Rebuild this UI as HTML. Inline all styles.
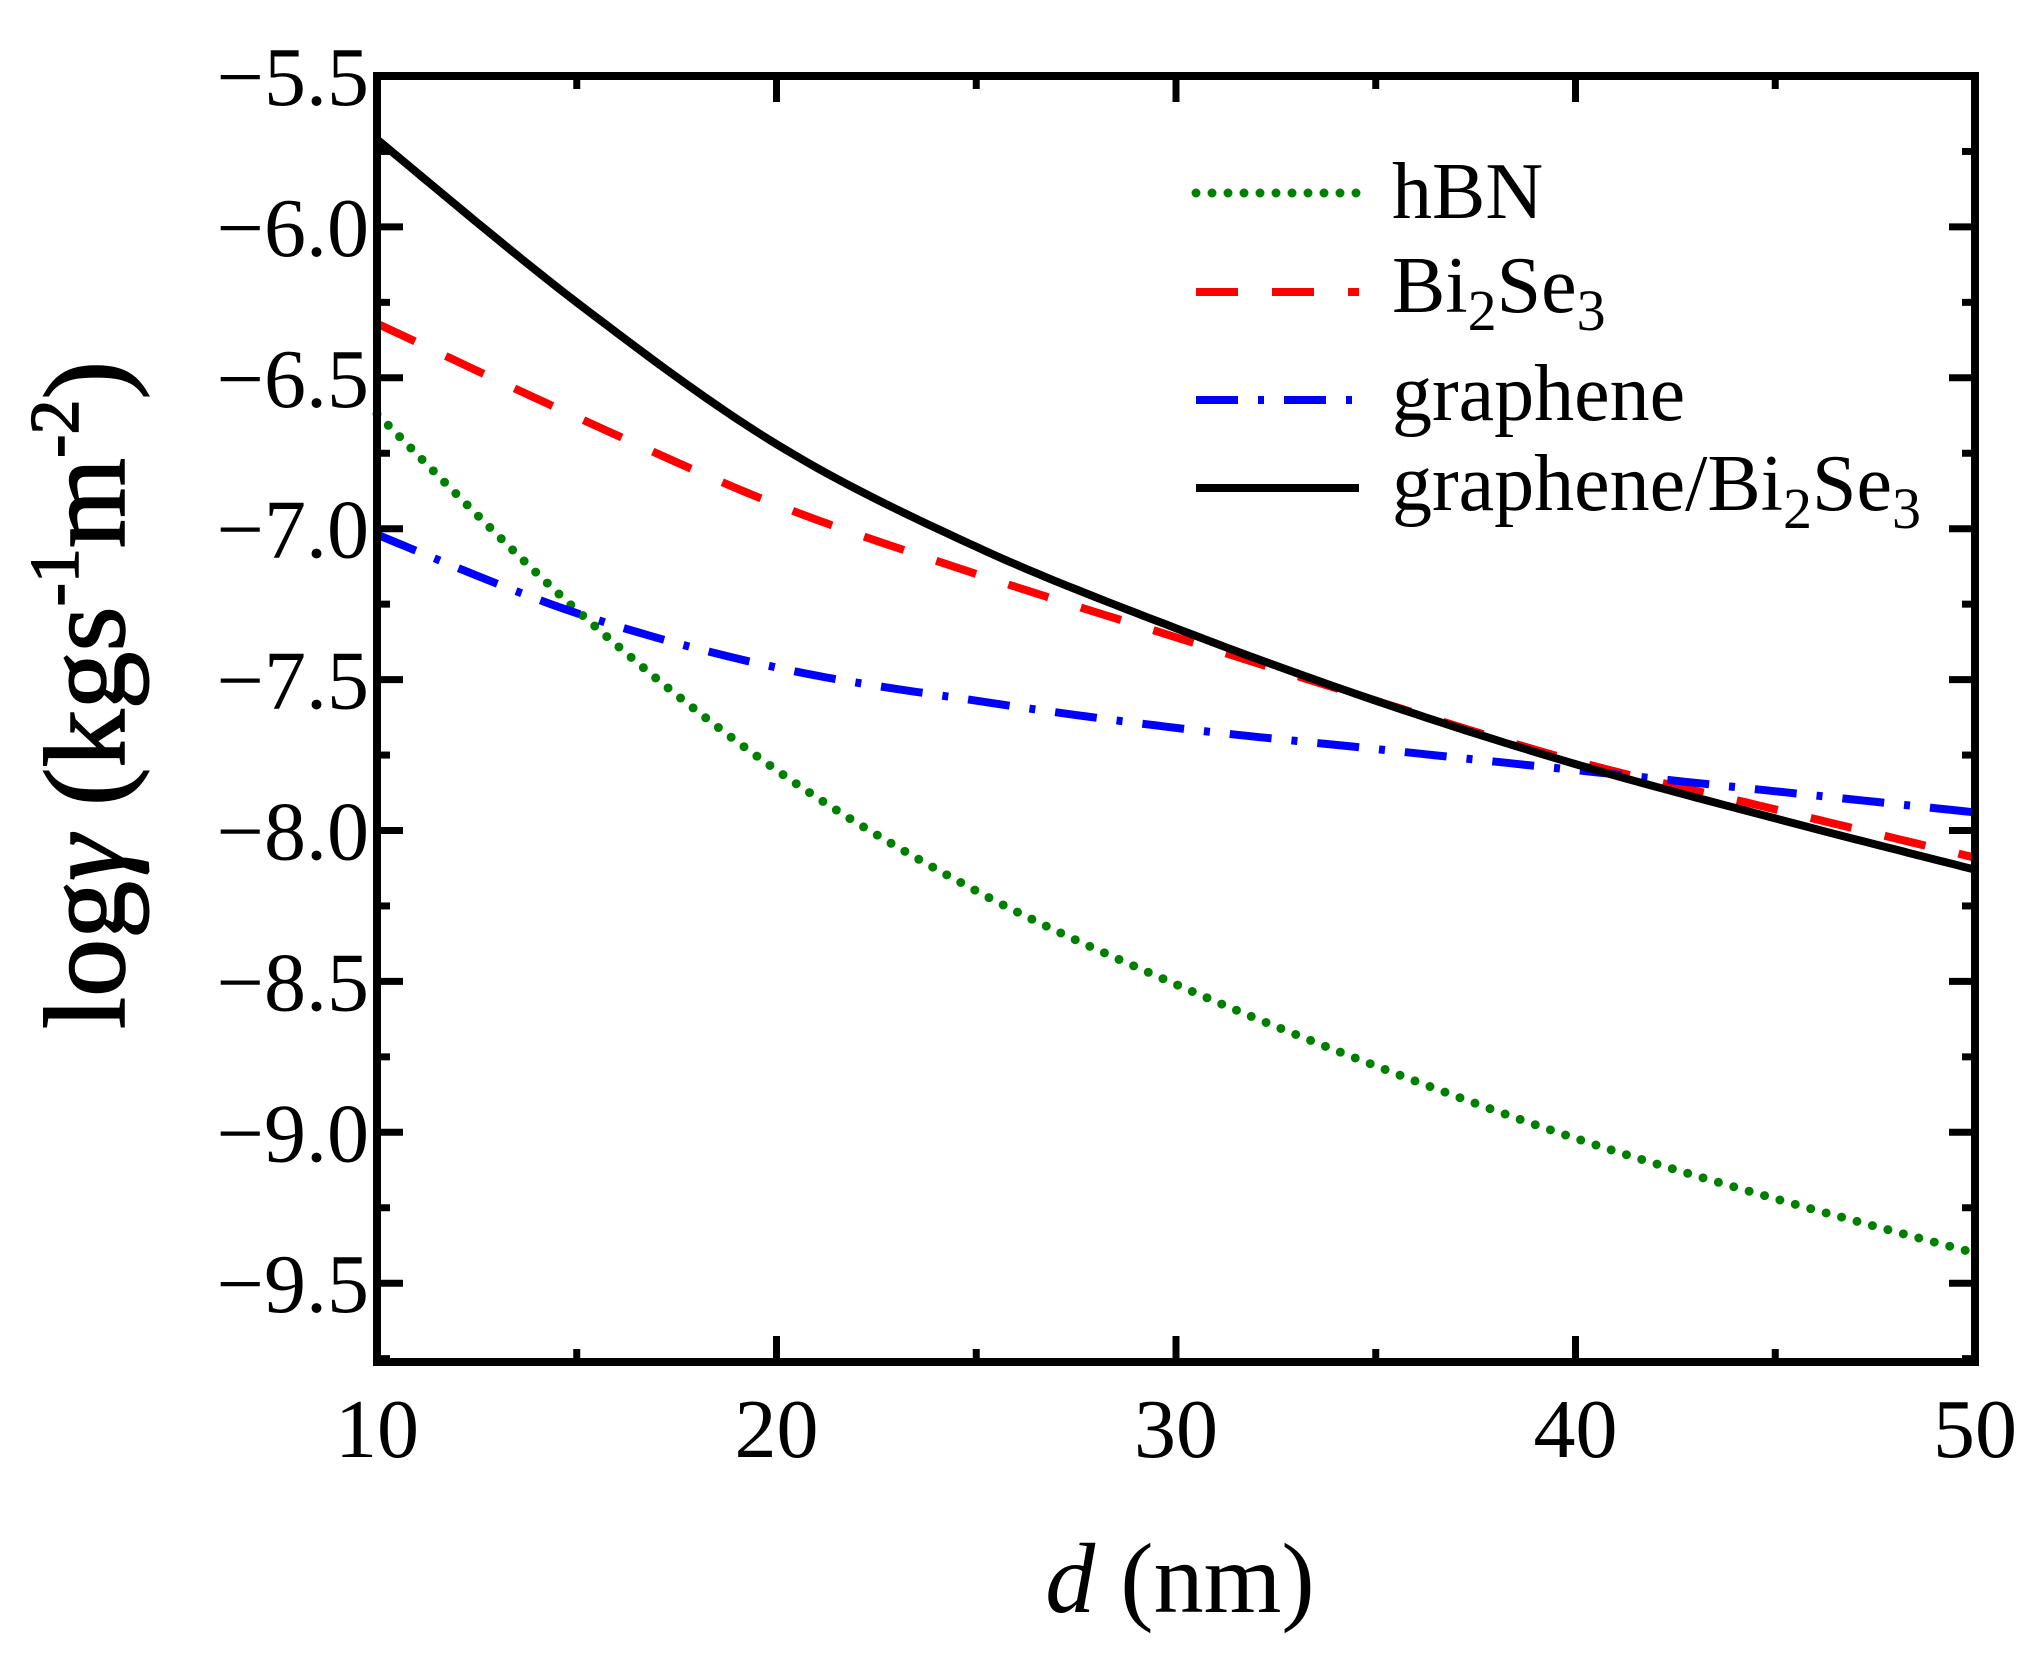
<!DOCTYPE html>
<html><head><meta charset="utf-8"><style>
html,body{margin:0;padding:0;background:#fff}
svg{display:block}
text{font-family:"Liberation Serif",serif;fill:#000}
</style></head><body>
<svg id="s" width="2043" height="1668" viewBox="0 0 2043 1668" xmlns="http://www.w3.org/2000/svg">
<g id="curves"></g>
<rect x="377" y="76" width="1598" height="1286" fill="none" stroke="#000" stroke-width="8"/>
<g id="ticks" stroke="#000" stroke-width="7"></g>
<g font-size="84" text-anchor="end" id="ylab"></g>
<g font-size="84" text-anchor="middle" id="xlab"></g>
<text transform="translate(124,695) rotate(-90)" font-size="116" text-anchor="middle" stroke="#000" stroke-width="1.5">log<tspan font-style="italic">γ</tspan> (kgs<tspan font-size="70" dy="-46">-1</tspan><tspan dy="46">m</tspan><tspan font-size="70" dy="-46">-2</tspan><tspan dy="46">)</tspan></text>
<text x="1180" y="1612" font-size="100" text-anchor="middle"><tspan font-style="italic">d</tspan> (nm)</text>
<g stroke-width="8" fill="none">
<line x1="1196" y1="193" x2="1359" y2="193" stroke="#008000" stroke-dasharray="0 16" stroke-linecap="round" stroke-width="9"/>
<line x1="1196" y1="292" x2="1359" y2="292" stroke="#ff0000" stroke-dasharray="42 34"/>
<line x1="1196" y1="400" x2="1359" y2="400" stroke="#0000ff" stroke-dasharray="42 20 6 20"/>
<line x1="1196" y1="488" x2="1359" y2="488" stroke="#000"/>
</g>
<g font-size="80">
<text x="1392" y="218">hBN</text>
<text x="1392" y="312">Bi<tspan font-size="58" dy="18">2</tspan><tspan dy="-18">Se</tspan><tspan font-size="58" dy="18">3</tspan></text>
<text x="1392" y="420">graphene</text>
<text x="1392" y="510">graphene/Bi<tspan font-size="58" dy="18">2</tspan><tspan dy="-18">Se</tspan><tspan font-size="58" dy="18">3</tspan></text>
</g>
</svg>
<script>
var X=function(d){return 377+(d-10)*39.95};
var Y=function(v){return 76+(-5.5-v)*301.8};
var NS="http://www.w3.org/2000/svg";
function el(p,n,a){var e=document.createElementNS(NS,n);for(var k in a)e.setAttribute(k,a[k]);p.appendChild(e);return e}
var t=document.getElementById('ticks');
for(var v=-5.5;v>=-9.76;v-=0.25){var maj=Math.abs(v*2-Math.round(v*2))<1e-6;var L=maj?26:13;var y=Y(v);
el(t,'line',{x1:377,y1:y,x2:377+L,y2:y});el(t,'line',{x1:1975,y1:y,x2:1975-L,y2:y});
if(maj)el(document.getElementById('ylab'),'text',{x:369,y:y+29}).textContent='\u2212'+(-v).toFixed(1);}
for(var d=10;d<=50;d+=5){var maj=d%10==0;var L=maj?26:13;var x=X(d);
el(t,'line',{x1:x,y1:1362,x2:x,y2:1362-L});el(t,'line',{x1:x,y1:76,x2:x,y2:76+L});
if(maj)el(document.getElementById('xlab'),'text',{x:x,y:1457}).textContent=d;}
function interp(pts){var out=[];var n=pts.length;
for(var i=0;i<n-1;i++){var p0=pts[Math.max(0,i-1)],p1=pts[i],p2=pts[i+1],p3=pts[Math.min(n-1,i+2)];
for(var s=0;s<20;s++){var u=s/20,u2=u*u,u3=u2*u;
var f=function(a,b,c,dd){return 0.5*((2*b)+(-a+c)*u+(2*a-5*b+4*c-dd)*u2+(-a+3*b-3*c+dd)*u3)};
out.push([f(p0[0],p1[0],p2[0],p3[0]),f(p0[1],p1[1],p2[1],p3[1])]);}}
out.push(pts[n-1]);return out;}
function path(data,attrs){var pts=data.map(function(p){return [X(p[0]),Y(p[1])]});var o=interp(pts);
attrs.d='M'+o.map(function(p){return p[0].toFixed(1)+','+p[1].toFixed(1)}).join('L');attrs.fill='none';
el(document.getElementById('curves'),'path',attrs);}
path([[10,-6.62],[15,-7.27],[20,-7.80],[25,-8.20],[30,-8.51],[35,-8.78],[40,-9.02],[45,-9.22],[50,-9.40]],{stroke:'#008000','stroke-width':9,'stroke-dasharray':'0 16','stroke-linecap':'round'});
path([[10,-6.32],[15,-6.63],[20,-6.92],[25,-7.15],[30,-7.36],[35,-7.57],[40,-7.77],[45,-7.93],[50,-8.09]],{stroke:'#ff0000','stroke-width':8,'stroke-dasharray':'42 34'});
path([[10,-7.02],[15,-7.28],[20,-7.46],[25,-7.57],[30,-7.66],[35,-7.73],[40,-7.80],[45,-7.87],[50,-7.94]],{stroke:'#0000ff','stroke-width':8,'stroke-dasharray':'42 20 6 20'});
path([[10,-5.71],[15,-6.25],[20,-6.72],[25,-7.06],[30,-7.33],[35,-7.57],[40,-7.78],[45,-7.96],[50,-8.13]],{stroke:'#000','stroke-width':8});
</script>
</body></html>
